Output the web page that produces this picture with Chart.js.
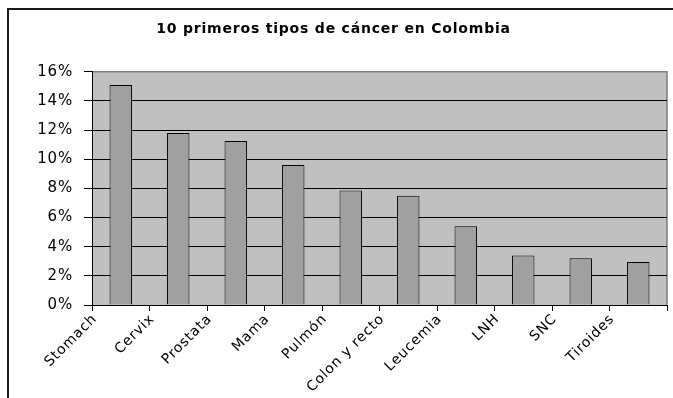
<!DOCTYPE html>
<html>
<head>
<meta charset="utf-8">
<script src="https://cdn.jsdelivr.net/npm/chart.js@4/dist/chart.umd.min.js"></script>
<style>
  html, body { margin: 0; padding: 0; background: #fff; overflow: hidden; }
  canvas { display: block; }
</style>
</head>
<body>
<canvas id="chart" width="673" height="398"></canvas>
<script>
// Cancer types and their share of cases (%)
const categories = ['Stomach', 'Cervix', 'Prostata', 'Mama', 'Pulmón', 'Colon y recto', 'Leucemia', 'LNH', 'SNC', 'Tiroides'];
const shares = [15.1, 11.8, 11.25, 9.6, 7.85, 7.5, 5.4, 3.4, 3.2, 2.95];
const yTicks = [0, 2, 4, 6, 8, 10, 12, 14, 16];
const titleText = '10 primeros tipos de cáncer en Colombia';

const FONT = 'DejaVu Sans';

// Slightly widened lettering for all chart text
const spacing = {
  id: 'spacing',
  beforeUpdate(chart) { chart.ctx.letterSpacing = '0.8px'; },
  beforeDraw(chart) { chart.ctx.letterSpacing = '0.8px'; }
};

// Grey plot area with a grey top/right edge, plus the outer frame lines
const plotArea = {
  id: 'plotArea',
  beforeDraw(chart) {
    const { ctx, chartArea: a } = chart;
    ctx.save();
    ctx.fillStyle = '#c0c0c0';
    ctx.fillRect(a.left, a.top, a.right - a.left, a.bottom - a.top);
    ctx.strokeStyle = '#808080';
    ctx.lineWidth = 1.5;
    ctx.beginPath();
    ctx.moveTo(a.left, a.top);
    ctx.lineTo(a.right, a.top);
    ctx.lineTo(a.right, a.bottom);
    ctx.stroke();
    // outer frame: left edge
    ctx.strokeStyle = '#1a1a1a';
    ctx.lineWidth = 2;
    ctx.beginPath();
    ctx.moveTo(8, chart.height);
    ctx.lineTo(8, 8);
    ctx.stroke();
    // outer frame: top edge, running off the right side
    ctx.beginPath();
    ctx.moveTo(7, 9);
    ctx.lineTo(chart.width, 9);
    ctx.stroke();
    ctx.restore();
  }
};

new Chart(document.getElementById('chart'), {
  type: 'bar',
  data: {
    labels: categories,
    datasets: [{
      data: shares,
      backgroundColor: '#a0a0a0',
      borderColor: '#000',
      borderWidth: 1,
      categoryPercentage: 1,
      barPercentage: 0.39
    }]
  },
  options: {
    responsive: false,
    animation: false,
    layout: { padding: { left: 0, right: 6, top: 0, bottom: 0 } },
    plugins: {
      legend: { display: false },
      tooltip: { enabled: false },
      title: {
        display: true,
        text: titleText,
        color: '#000',
        font: { family: FONT, size: 14, weight: 'bold' },
        padding: { top: 21, bottom: 34 }
      }
    },
    scales: {
      x: {
        type: 'category',
        offset: true,
        afterFit(scale) { scale.height = 93; },
        border: { display: true, color: '#000', width: 1 },
        grid: {
          offset: true,
          drawOnChartArea: false,
          drawTicks: true,
          tickLength: 6,
          tickColor: '#000'
        },
        ticks: {
          autoSkip: false,
          maxRotation: 45,
          minRotation: 45,
          labelOffset: -26,
          padding: 0,
          color: '#000',
          font: { family: FONT, size: 14 }
        }
      },
      y: {
        min: 0,
        max: 16,
        afterFit(scale) { scale.width = 92; },
        afterBuildTicks(scale) { scale.ticks = yTicks.map(v => ({ value: v })); },
        border: { display: true, color: '#000', width: 1 },
        grid: {
          color: ctx => (ctx.tick && ctx.tick.value === 16 ? 'rgba(0,0,0,0)' : '#000'),
          lineWidth: 1,
          drawTicks: true,
          tickLength: 8,
          tickColor: '#000'
        },
        ticks: {
          padding: 11,
          color: '#000',
          font: { family: FONT, size: 15 },
          callback: v => v + '%'
        }
      }
    }
  },
  plugins: [spacing, plotArea]
});
</script>
</body>
</html>
